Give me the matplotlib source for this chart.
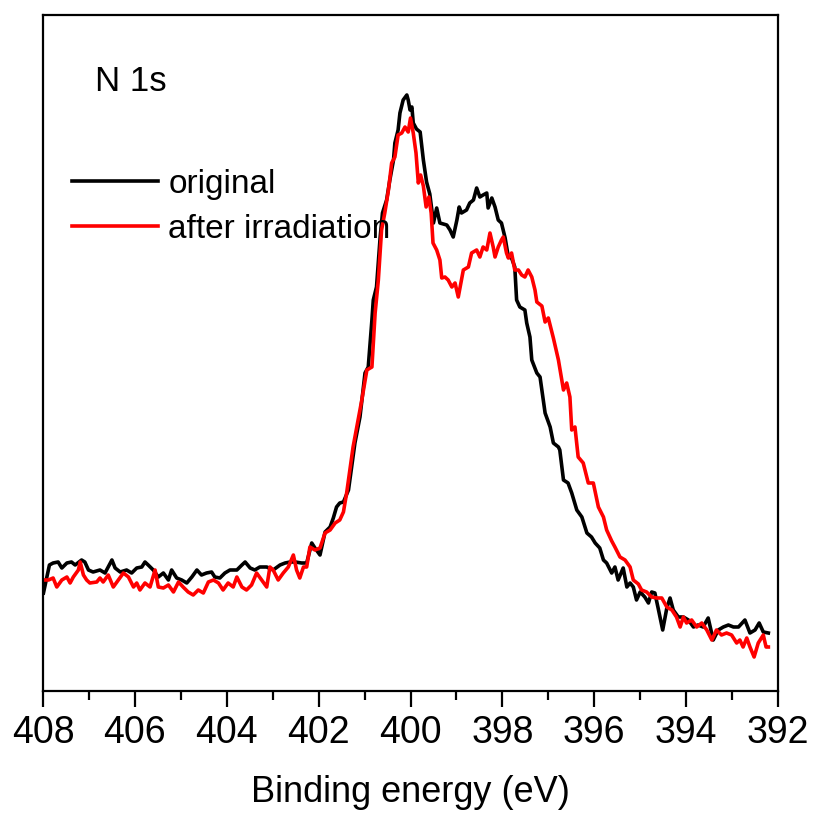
#!/usr/bin/env python3

import matplotlib
matplotlib.use('Agg')
import matplotlib.pyplot as plt
from matplotlib.ticker import MultipleLocator

plt.rcParams['font.family'] = ['Liberation Sans', 'DejaVu Sans']

# N 1s spectra (binding energy in eV, intensity in a.u.)
energy_orig = [407.99, 407.86, 407.78, 407.67, 407.59, 407.48, 407.38, 407.30, 407.16, 407.09,
               407.01, 406.91, 406.76, 406.65, 406.50, 406.43, 406.32, 406.18, 406.07, 405.96,
               405.85, 405.78, 405.71, 405.60, 405.49, 405.38, 405.27, 405.20, 405.09, 404.98,
               404.87, 404.76, 404.65, 404.55, 404.44, 404.33, 404.26, 404.15, 404.04, 403.93,
               403.78, 403.67, 403.60, 403.49, 403.39, 403.28, 403.13, 402.99, 402.84, 402.73,
               402.62, 402.51, 402.37, 402.26, 402.15, 402.08, 401.97, 401.86, 401.75, 401.68,
               401.61, 401.54, 401.46, 401.35, 401.21, 401.10, 400.99, 400.92, 400.84, 400.81,
               400.74, 400.66, 400.61, 400.52, 400.45, 400.37, 400.34, 400.27, 400.23, 400.16,
               400.08, 400.05, 400.01, 399.97, 399.94, 399.87, 399.79, 399.72, 399.65, 399.58,
               399.50, 399.43, 399.36, 399.21, 399.14, 399.07, 398.99, 398.94, 398.89, 398.78,
               398.71, 398.63, 398.56, 398.49, 398.42, 398.34, 398.31, 398.23, 398.16, 398.09,
               398.02, 397.94, 397.87, 397.80, 397.73, 397.69, 397.62, 397.51, 397.47, 397.40,
               397.36, 397.25, 397.18, 397.07, 396.96, 396.89, 396.78, 396.75, 396.67, 396.57,
               396.49, 396.38, 396.27, 396.16, 396.06, 395.98, 395.88, 395.80, 395.73, 395.62,
               395.55, 395.48, 395.37, 395.29, 395.22, 395.15, 395.08, 395.00, 394.90, 394.82,
               394.75, 394.68, 394.61, 394.51, 394.42, 394.35, 394.28, 394.17, 394.06, 393.95,
               393.84, 393.74, 393.63, 393.52, 393.41, 393.30, 393.19, 393.08, 392.97, 392.86,
               392.72, 392.61, 392.50, 392.41, 392.32, 392.21]
intensity_orig = [98, 126, 128, 129, 123, 128, 129, 126, 131, 129,
                  121, 119, 121, 118, 131, 123, 119, 121, 118, 123,
                  124, 129, 126, 121, 114, 118, 111, 121, 113, 111,
                  108, 114, 121, 116, 118, 119, 114, 113, 118, 121,
                  121, 126, 129, 123, 121, 124, 124, 121, 126, 128,
                  129, 129, 128, 128, 148, 143, 136, 159, 164, 173,
                  184, 188, 189, 201, 248, 274, 318, 324, 371, 391,
                  404, 454, 478, 491, 511, 531, 548, 561, 578, 591,
                  596, 591, 581, 584, 568, 562, 559, 531, 509, 497,
                  468, 483, 468, 466, 461, 454, 471, 484, 478, 481,
                  488, 491, 503, 494, 496, 498, 483, 493, 484, 471,
                  468, 453, 434, 433, 424, 391, 384, 381, 368, 354,
                  331, 318, 314, 278, 264, 248, 244, 241, 211, 208,
                  198, 181, 174, 158, 154, 148, 143, 131, 128, 118,
                  124, 111, 123, 104, 108, 104, 91, 99, 94, 88,
                  99, 98, 83, 61, 83, 93, 81, 74, 74, 71,
                  64, 66, 64, 73, 51, 61, 64, 66, 64, 64,
                  71, 58, 61, 68, 59, 58]

energy_irr = [407.99, 407.88, 407.78, 407.70, 407.59, 407.48, 407.41, 407.34, 407.23, 407.19,
              407.12, 407.05, 406.98, 406.83, 406.76, 406.69, 406.58, 406.47, 406.36, 406.25,
              406.14, 406.03, 405.96, 405.89, 405.78, 405.67, 405.56, 405.49, 405.38, 405.27,
              405.16, 405.05, 404.95, 404.84, 404.73, 404.62, 404.51, 404.40, 404.29, 404.18,
              404.08, 403.97, 403.86, 403.78, 403.67, 403.57, 403.46, 403.35, 403.24, 403.13,
              403.06, 402.99, 402.88, 402.77, 402.66, 402.55, 402.48, 402.41, 402.33, 402.26,
              402.19, 402.08, 401.97, 401.86, 401.75, 401.64, 401.54, 401.46, 401.39, 401.25,
              401.06, 400.95, 400.84, 400.77, 400.70, 400.63, 400.56, 400.48, 400.41, 400.34,
              400.27, 400.19, 400.12, 400.05, 400.00, 399.94, 399.88, 399.83, 399.78, 399.72,
              399.66, 399.60, 399.55, 399.51, 399.43, 399.36, 399.32, 399.25, 399.18, 399.10,
              399.03, 398.96, 398.85, 398.74, 398.67, 398.56, 398.49, 398.42, 398.34, 398.27,
              398.20, 398.16, 398.09, 398.02, 397.98, 397.91, 397.87, 397.80, 397.73, 397.65,
              397.58, 397.51, 397.44, 397.36, 397.29, 397.25, 397.14, 397.07, 397.00, 396.89,
              396.78, 396.67, 396.60, 396.53, 396.49, 396.42, 396.35, 396.24, 396.13, 396.02,
              395.91, 395.80, 395.73, 395.62, 395.55, 395.44, 395.33, 395.22, 395.15, 395.04,
              394.97, 394.86, 394.75, 394.64, 394.53, 394.42, 394.31, 394.21, 394.13, 394.06,
              393.99, 393.88, 393.77, 393.66, 393.55, 393.44, 393.34, 393.23, 393.12, 393.01,
              392.90, 392.83, 392.76, 392.68, 392.61, 392.52, 392.43, 392.32, 392.26, 392.21]
intensity_irr = [111, 111, 113, 104, 111, 114, 108, 114, 121, 129,
                 116, 111, 108, 109, 113, 109, 116, 104, 111, 118,
                 114, 104, 108, 101, 108, 104, 121, 104, 103, 106,
                 99, 109, 104, 99, 96, 101, 98, 109, 111, 108,
                 101, 108, 104, 114, 104, 101, 106, 118, 111, 104,
                 124, 121, 111, 118, 124, 136, 121, 113, 124, 124,
                 144, 141, 143, 158, 161, 168, 171, 179, 198, 244,
                 291, 321, 324, 378, 411, 461, 478, 501, 528, 534,
                 556, 558, 564, 559, 573, 558, 538, 508, 516, 505,
                 484, 494, 478, 448, 441, 431, 413, 414, 411, 404,
                 408, 394, 421, 424, 438, 441, 434, 444, 441, 458,
                 444, 434, 444, 451, 454, 438, 433, 438, 421, 421,
                 416, 414, 421, 414, 401, 389, 385, 369, 373, 353,
                 331, 301, 308, 294, 261, 264, 234, 228, 208, 208,
                 184, 174, 161, 150, 144, 134, 131, 124, 111, 107,
                 101, 99, 94, 93, 93, 84, 81, 74, 64, 74,
                 68, 71, 64, 68, 61, 51, 61, 56, 58, 56,
                 48, 51, 44, 53, 44, 34, 48, 56, 44, 44]

fig = plt.figure(figsize=(8.14, 8.16), dpi=100)
ax = fig.add_axes([43 / 814, 1 - 691 / 816, 735 / 814, 676 / 816])

ax.plot(energy_orig, intensity_orig, color='black', lw=2.6, label='original')
ax.plot(energy_irr, intensity_irr, color='red', lw=2.6, label='after irradiation')

ax.set_xlim(408, 392)
ax.set_ylim(0, 676)
ax.xaxis.set_major_locator(MultipleLocator(2))
ax.xaxis.set_minor_locator(MultipleLocator(1))
ax.set_yticks([])
ax.tick_params(axis='x', which='major', direction='out', length=11.5, width=1.6,
               labelsize=27, pad=6)
ax.tick_params(axis='x', which='minor', direction='out', length=6.5, width=1.6)
for sp in ax.spines.values():
    sp.set_linewidth(1.6)

ax.set_xlabel('Binding energy (eV)', fontsize=26, labelpad=17)
ax.text(0.071, 0.902, 'N 1s', transform=ax.transAxes, fontsize=25, va='center', ha='left')

ax.legend(loc='upper left', bbox_to_anchor=(0.039, 0.772), frameon=False, fontsize=24,
          borderpad=0, borderaxespad=0, handlelength=2.6, handletextpad=0.3,
          labelspacing=0.42)

fig.savefig('out.png', dpi=100)
